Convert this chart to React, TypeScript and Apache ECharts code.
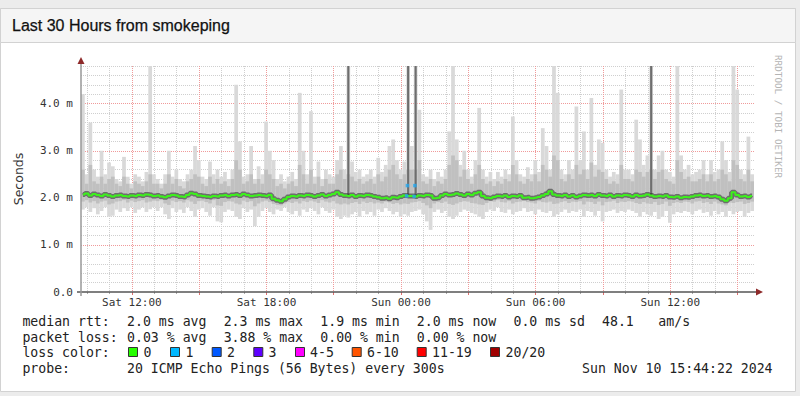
import React, { useEffect, useRef } from 'react';
import * as echarts from 'echarts';

// ---- time domain (minutes from Sat 09:44 to Sun 15:44) ----
const SPAN_MIN = 1800;
const BUCKET_MIN = 10;
const FIRST_HOUR_OFFSET = 16; // Sat 10:00
const FIRST_MAJOR_OFFSET = 136; // Sat 12:00

const xTickOffsets = [136, 496, 856, 1216, 1576];
const xTickLabels = ['Sat 12:00', 'Sat 18:00', 'Sun 00:00', 'Sun 06:00', 'Sun 12:00'];
const yTickValues = [0, 1, 2, 3, 4];
const yTickLabels = ['0.0', '1.0 m', '2.0 m', '3.0 m', '4.0 m'];

// ---- smokeping data, one value per 10 min bucket (ms) ----
const medianRtt = [
  2.07, 2.09, 2.05, 2.08, 2.06, 2.04, 2.07, 2.05, 2.03, 2.05, 2.06, 2.04, 2.03, 2.05, 2.04, 2.06, 2.05, 2.07, 2.06, 2.04,
  2.05, 2.03, 2.01, 2.04, 2.06, 2.05, 2.03, 2.02, 2.06, 2.10, 2.08, 2.05, 2.04, 2.03, 2.02, 2.04, 2.03, 2.05, 2.06, 2.04,
  2.06, 2.07, 2.05, 2.08, 2.06, 2.04, 2.05, 2.06, 2.05, 2.04, 2.06, 1.98, 1.95, 1.93, 1.97, 2.02, 2.04, 2.03, 2.05, 2.04,
  2.06, 2.05, 2.03, 2.05, 2.07, 2.04, 2.06, 2.08, 2.12, 2.07, 2.05, 2.04, 2.06, 2.03, 2.05, 2.04, 2.06, 2.05, 2.03, 2.01,
  1.99, 2.00, 1.98, 2.01, 2.00, 2.03, 2.05, 2.04, 2.04, 2.03, 2.05, 2.04, 2.06, 2.05, 1.99, 2.00, 2.05, 2.08, 2.06, 2.07,
  2.09, 2.07, 2.05, 2.08, 2.06, 2.10, 2.12, 2.04, 2.00, 1.99, 2.02, 2.04, 2.03, 2.05, 2.02, 2.04, 2.03, 2.05, 2.00, 2.01,
  1.99, 2.00, 2.02, 2.05, 2.08, 2.14, 2.07, 2.05, 2.04, 2.06, 2.03, 2.05, 2.02, 2.04, 2.06, 2.05, 2.06, 2.04, 2.07, 2.05,
  2.04, 2.06, 2.03, 2.05, 2.04, 2.06, 2.05, 2.03, 2.06, 2.04, 2.05, 2.07, 2.05, 2.03, 2.04, 2.03, 2.05, 2.02, 2.01, 2.03,
  2.00, 2.02, 2.01, 2.03, 2.05, 2.06, 2.04, 2.05, 2.03, 2.04, 2.02, 1.97, 1.94, 1.99, 2.12, 2.06, 2.03, 2.04, 2.02, 2.04,
];

const pingMax = [
  4.2, 2.5, 3.6, 2.6, 2.45, 3.0, 2.5, 2.75, 2.67, 2.4, 2.35, 2.87, 2.45, 2.3, 2.5, 2.45, 2.35, 2.55, 4.8, 2.5,
  2.4, 2.3, 2.5, 3.0, 2.45, 2.6, 2.4, 2.35, 2.5, 2.6, 3.1, 2.8, 2.45, 2.4, 2.77, 2.5, 2.6, 2.45, 2.55, 2.4,
  2.6, 4.4, 3.2, 2.45, 2.5, 3.1, 2.4, 2.67, 2.5, 3.62, 3.0, 2.8, 2.4, 2.5, 2.35, 2.45, 2.55, 2.4, 4.23, 3.0,
  2.5, 3.84, 2.45, 2.77, 2.4, 2.6, 2.5, 2.45, 2.8, 3.1, 2.6, 4.8, 2.77, 2.55, 2.6, 2.45, 2.5, 2.6, 2.45, 2.85,
  2.55, 2.7, 3.1, 3.24, 2.8, 2.6, 2.77, 4.8, 3.1, 4.8, 3.87, 2.5, 2.45, 2.6, 2.4, 2.55, 2.45, 2.6, 3.41, 4.8,
  3.24, 2.7, 3.0, 2.6, 2.45, 2.8, 3.91, 2.6, 2.45, 2.55, 2.4, 2.55, 2.45, 2.6, 2.5, 3.73, 2.8, 2.5, 2.45, 2.65,
  2.5, 2.8, 2.55, 3.48, 3.1, 2.6, 4.8, 4.23, 2.6, 2.5, 2.8, 2.6, 3.94, 2.8, 3.41, 2.6, 4.12, 2.7, 3.24, 3.17,
  2.6, 2.45, 2.55, 2.5, 4.3, 2.6, 2.6, 2.5, 3.66, 3.24, 2.7, 2.9, 4.8, 2.6, 2.9, 3.0, 2.6, 2.55, 2.45, 4.8,
  2.9, 2.6, 2.7, 2.5, 2.55, 2.6, 2.8, 2.5, 2.8, 2.55, 2.6, 3.2, 2.8, 2.55, 4.8, 4.3, 2.6, 2.5, 3.3, 2.5,
];

const pingMin = [
  1.75, 1.8, 1.7, 1.78, 1.65, 1.72, 1.8, 1.6, 1.62, 1.75, 1.7, 1.78, 1.72, 1.8, 1.68, 1.75, 1.8, 1.7, 1.76, 1.8,
  1.72, 1.8, 1.65, 1.55, 1.78, 1.7, 1.75, 1.68, 1.8, 1.72, 1.6, 1.75, 1.78, 1.7, 1.62, 1.8, 1.5, 1.48, 1.7, 1.75,
  1.72, 1.6, 1.55, 1.78, 1.7, 1.75, 1.4, 1.6, 1.72, 1.78, 1.7, 1.65, 1.75, 1.72, 1.8, 1.7, 1.65, 1.72, 1.62, 1.75,
  1.7, 1.78, 1.72, 1.65, 1.8, 1.72, 1.68, 1.75, 1.6, 1.55, 1.62, 1.58, 1.65, 1.7, 1.6, 1.72, 1.65, 1.7, 1.62, 1.75,
  1.7, 1.78, 1.72, 1.65, 1.7, 1.6, 1.65, 1.62, 1.7, 1.72, 1.75, 1.65, 1.5, 1.32, 1.7, 1.75, 1.68, 1.72, 1.6, 1.55,
  1.62, 1.7, 1.75, 1.72, 1.68, 1.65, 1.6, 1.55, 1.7, 1.75, 1.72, 1.8, 1.7, 1.68, 1.75, 1.65, 1.7, 1.72, 1.78, 1.7,
  1.72, 1.65, 1.75, 1.7, 1.68, 1.72, 1.6, 1.65, 1.7, 1.75, 1.68, 1.72, 1.7, 1.75, 1.6, 1.72, 1.7, 1.62, 1.72, 1.5,
  1.7, 1.72, 1.75, 1.68, 1.72, 1.7, 1.75, 1.72, 1.68, 1.6, 1.7, 1.65, 1.62, 1.7, 1.55, 1.6, 1.72, 1.47, 1.65, 1.7,
  1.68, 1.72, 1.7, 1.65, 1.72, 1.75, 1.68, 1.7, 1.62, 1.72, 1.65, 1.7, 1.6, 1.72, 1.65, 1.7, 1.72, 1.6, 1.68, 1.72,
];

const bandHigh = [
  2.6, 2.3, 2.7, 2.35, 2.3, 2.45, 2.3, 2.4, 2.45, 2.3, 2.25, 2.45, 2.3, 2.2, 2.35, 2.3, 2.25, 2.35, 2.5, 2.3,
  2.3, 2.2, 2.3, 2.5, 2.3, 2.4, 2.25, 2.2, 2.35, 2.4, 2.5, 2.45, 2.3, 2.25, 2.45, 2.3, 2.4, 2.3, 2.35, 2.25,
  2.4, 2.8, 2.6, 2.3, 2.35, 2.5, 2.3, 2.4, 2.3, 2.6, 2.5, 2.4, 2.25, 2.3, 2.2, 2.3, 2.35, 2.25, 2.7, 2.5,
  2.3, 2.6, 2.3, 2.45, 2.25, 2.4, 2.3, 2.3, 2.5, 2.6, 2.4, 2.5, 2.45, 2.35, 2.4, 2.3, 2.35, 2.4, 2.3, 2.5,
  2.35, 2.45, 2.6, 2.7, 2.5, 2.4, 2.5, 2.6, 2.6, 2.6, 2.8, 2.35, 2.3, 2.4, 2.25, 2.35, 2.3, 2.4, 2.7, 2.9,
  2.8, 2.45, 2.6, 2.4, 2.3, 2.5, 2.7, 2.4, 2.3, 2.35, 2.25, 2.35, 2.3, 2.4, 2.35, 2.7, 2.5, 2.35, 2.3, 2.4,
  2.35, 2.5, 2.35, 2.7, 2.6, 2.45, 2.9, 2.8, 2.4, 2.35, 2.5, 2.4, 2.7, 2.5, 2.6, 2.4, 2.75, 2.45, 2.6, 2.55,
  2.4, 2.3, 2.35, 2.3, 2.7, 2.4, 2.4, 2.35, 2.6, 2.55, 2.45, 2.55, 2.6, 2.4, 2.55, 2.6, 2.4, 2.35, 2.3, 2.8,
  2.55, 2.4, 2.45, 2.35, 2.35, 2.4, 2.5, 2.35, 2.5, 2.35, 2.4, 2.6, 2.5, 2.35, 2.8, 2.7, 2.4, 2.35, 2.6, 2.35,
];

const bandLow = [
  1.92, 1.95, 1.9, 1.93, 1.88, 1.92, 1.94, 1.86, 1.88, 1.92, 1.93, 1.95, 1.9, 1.94, 1.91, 1.93, 1.95, 1.9, 1.92, 1.94,
  1.93, 1.95, 1.88, 1.85, 1.94, 1.91, 1.93, 1.9, 1.95, 1.92, 1.87, 1.93, 1.94, 1.91, 1.88, 1.95, 1.84, 1.83, 1.91, 1.93,
  1.92, 1.88, 1.86, 1.94, 1.91, 1.93, 1.82, 1.88, 1.92, 1.94, 1.91, 1.87, 1.85, 1.84, 1.88, 1.91, 1.89, 1.92, 1.88, 1.93,
  1.91, 1.94, 1.92, 1.89, 1.95, 1.92, 1.9, 1.93, 1.88, 1.86, 1.88, 1.86, 1.89, 1.91, 1.87, 1.92, 1.89, 1.91, 1.88, 1.9,
  1.88, 1.92, 1.9, 1.87, 1.89, 1.86, 1.88, 1.87, 1.9, 1.91, 1.93, 1.89, 1.84, 1.78, 1.88, 1.91, 1.89, 1.92, 1.87, 1.85,
  1.88, 1.91, 1.93, 1.92, 1.89, 1.88, 1.86, 1.85, 1.89, 1.93, 1.92, 1.95, 1.91, 1.9, 1.93, 1.88, 1.91, 1.92, 1.94, 1.91,
  1.9, 1.88, 1.93, 1.91, 1.9, 1.92, 1.87, 1.88, 1.91, 1.93, 1.89, 1.92, 1.91, 1.93, 1.86, 1.92, 1.91, 1.87, 1.92, 1.84,
  1.91, 1.92, 1.94, 1.89, 1.92, 1.91, 1.93, 1.92, 1.89, 1.87, 1.91, 1.88, 1.87, 1.91, 1.85, 1.87, 1.92, 1.83, 1.89, 1.91,
  1.89, 1.92, 1.91, 1.88, 1.92, 1.93, 1.89, 1.91, 1.87, 1.92, 1.88, 1.86, 1.84, 1.9, 1.89, 1.91, 1.92, 1.87, 1.89, 1.92,
];

const darkSpikeIdx = [71, 87, 89, 152];
const darkSpikeTop = [4.8, 4.8, 4.8, 4.8];

const lossIdx = [87, 89];
const lossPeak = [2.26, 2.26];

// ---- legend texts ----
const rttStats = ['2.0 ms avg', '2.3 ms max', '1.9 ms min', '2.0 ms now', '0.0 ms sd'];
const rttRate = ['48.1', 'am/s'];
const lossStats = ['0.03 % avg', '3.88 % max', '0.00 % min', '0.00 % now'];
const lossLabels = ['0', '1', '2', '3', '4-5', '6-10', '11-19', '20/20'];
const lossColors = ['#26ff00', '#00b8ff', '#0059ff', '#5e00ff', '#ff00ff', '#ff5500', '#ff0000', '#a00000'];
const probeText = '20 ICMP Echo Pings (56 Bytes) every 300s';
const stampText = 'Sun Nov 10 15:44:22 2024';
const titleText = 'Last 30 Hours from smokeping';
const watermark = 'RRDTOOL / TOBI OETIKER';

const MONO = '"DejaVu Sans Mono", monospace';

function buildOption() {
  const cats = Array.from({ length: SPAN_MIN + 1 }, (_, k) => String(k));
  const mod = (a: number, m: number) => ((a % m) + m) % m;
  const isMajor = (k: number) => mod(k - FIRST_MAJOR_OFFSET, 180) === 0;
  const isHour = (k: number) => mod(k - FIRST_HOUR_OFFSET, 60) === 0;
  const isMinor = (k: number) => isHour(k) && !isMajor(k);

  const rectRender = (fill: string, inset: number) => (params: any, api: any) => {
    const x0 = api.value(0);
    const a = api.coord([x0, api.value(2)]);
    const b = api.coord([x0 + BUCKET_MIN, api.value(1)]);
    return {
      type: 'rect',
      shape: { x: a[0] + inset, y: a[1], width: Math.max(0.5, b[0] - a[0] - 2 * inset), height: b[1] - a[1] },
      style: { fill },
    };
  };

  const outer = pingMax.map((hi, i) => [i * BUCKET_MIN, pingMin[i], hi]);
  const inner = bandHigh.map((hi, i) => [i * BUCKET_MIN, bandLow[i], hi]);
  const dark = darkSpikeIdx.map((idx, j) => [idx * BUCKET_MIN, medianRtt[idx], darkSpikeTop[j]]);
  const medPts = medianRtt.map((v, i) => [i * BUCKET_MIN + BUCKET_MIN / 2, v]);
  const lossPts: number[][] = [];
  lossIdx.forEach((idx, j) => {
    lossPts.push([idx * BUCKET_MIN + 3, lossPeak[j]]);
    lossPts.push([idx * BUCKET_MIN + 1, medianRtt[idx]]);
  });

  const CW = 8.05;
  const C0 = 22.4;
  const col = (c: number) => C0 + c * CW;
  const textEl = (text: string, x: number, y: number, extra: any = {}) => ({
    type: 'text',
    x,
    y,
    z: 100,
    silent: true,
    style: {
      text,
      fontFamily: MONO,
      fontSize: 13.2,
      fill: '#222',
      align: 'left',
      textAlign: 'left',
      verticalAlign: 'middle',
      textVerticalAlign: 'middle',
      ...extra,
    },
  });

  const L1 = 321.5, L2 = 337, L3 = 352.5, L4 = 368;
  const boxX = [128, 170, 211.7, 253.3, 295, 351.7, 416.7, 490];
  const lblX = [143.5, 185.5, 227, 268.5, 310, 367, 432, 505.5];

  const graphics: any[] = [
    { type: 'rect', z: -20, silent: true, shape: { x: 0, y: 0, width: 800, height: 396 }, style: { fill: '#ececec' } },
    { type: 'rect', z: -19, silent: true, shape: { x: 0.5, y: 8.5, width: 795, height: 383 }, style: { fill: '#ffffff', stroke: '#d2d2d2', lineWidth: 1 } },
    { type: 'rect', z: -18, silent: true, shape: { x: 0.5, y: 8.5, width: 795, height: 34 }, style: { fill: '#f5f5f5', stroke: '#d2d2d2', lineWidth: 1 } },
    {
      type: 'text', x: 12, y: 25.5, z: 100, silent: true,
      style: { text: titleText, fontFamily: '"Liberation Sans", Arial, sans-serif', fontSize: 16, fill: '#111', align: 'left', textAlign: 'left', verticalAlign: 'middle', textVerticalAlign: 'middle', stroke: '#111', lineWidth: 0.25 },
    },
    {
      type: 'text', x: 778, y: 55, z: 100, silent: true, rotation: -Math.PI / 2,
      style: { text: watermark, fontFamily: MONO, fontSize: 9.3, fill: '#b4b4b4', align: 'left', textAlign: 'left', verticalAlign: 'middle', textVerticalAlign: 'middle' },
    },
    // axis extensions and arrows
    { type: 'line', z: 50, silent: true, shape: { x1: 77, y1: 292, x2: 757, y2: 292 }, style: { stroke: '#555', lineWidth: 1.5 } },
    { type: 'line', z: 50, silent: true, shape: { x1: 81, y1: 296, x2: 81, y2: 62 }, style: { stroke: '#999', lineWidth: 1.5 } },
    { type: 'polygon', z: 51, silent: true, shape: { points: [[77.5, 64], [84.5, 64], [81, 57]] }, style: { fill: '#8e2a2a' } },
    { type: 'polygon', z: 51, silent: true, shape: { points: [[756, 288.5], [756, 295.5], [763, 292]] }, style: { fill: '#8e2a2a' } },
    // legend
    textEl('median rtt:', col(0), L1),
    ...rttStats.map((s, i) => textEl(s, col(13 + 12 * i), L1)),
    textEl(rttRate[0], col(72), L1),
    textEl(rttRate[1], col(79), L1),
    textEl('packet loss:', col(0), L2),
    ...lossStats.map((s, i) => textEl(s, col(13 + 12 * i), L2)),
    textEl('loss color:', col(0), L3),
    ...lossColors.map((c, i) => ({
      type: 'rect', z: 100, silent: true,
      shape: { x: boxX[i] + 0.5, y: 347.5, width: 9, height: 9 },
      style: { fill: c, stroke: '#333', lineWidth: 1 },
    })),
    ...lossLabels.map((s, i) => textEl(s, lblX[i], L3)),
    textEl('probe:', col(0), L4),
    textEl(probeText, col(13), L4),
    textEl(stampText, 582, L4),
  ];

  const axisLabelStyle = { fontFamily: MONO, fontSize: 11, color: '#333' };
  const red = '#f09a9a';
  const gray = '#cfcfcf';

  return {
    animation: false,
    backgroundColor: '#ececec',
    textStyle: { fontFamily: MONO },
    grid: { left: 81, right: 46, top: 66, bottom: 104, containLabel: false },
    xAxis: [
      {
        type: 'category',
        position: 'bottom',
        data: cats,
        boundaryGap: false,
        axisLine: { show: false },
        axisTick: { show: true, interval: (i: number) => isMinor(i), length: 2, lineStyle: { color: '#aaa' } },
        axisLabel: { show: false },
        splitLine: { show: true, interval: (i: number) => isMinor(i), lineStyle: { color: gray, type: [1, 1], width: 1 } },
      },
      {
        type: 'category',
        position: 'bottom',
        data: cats,
        boundaryGap: false,
        axisLine: { show: false },
        axisTick: { show: true, interval: (i: number) => isMajor(i), length: 3, lineStyle: { color: '#e07070' } },
        axisLabel: {
          show: true,
          interval: (i: number) => xTickOffsets.indexOf(i) >= 0,
          formatter: (v: string) => {
            const k = xTickOffsets.indexOf(Number(v));
            return k >= 0 ? xTickLabels[k] : '';
          },
          margin: 5,
          ...axisLabelStyle,
        },
        splitLine: { show: true, interval: (i: number) => isMajor(i), lineStyle: { color: red, type: [1, 1], width: 1 } },
      },
    ],
    yAxis: [
      {
        type: 'value',
        position: 'left',
        min: 0,
        max: 4.8,
        interval: 0.2,
        axisLine: { show: false },
        axisTick: { show: false },
        axisLabel: { show: false },
        splitLine: { show: true, lineStyle: { color: ['transparent', gray, gray, gray, gray], type: [1, 1], width: 1 } },
      },
      {
        type: 'value',
        min: 0,
        max: 4.8,
        interval: 1,
        position: 'left',
        name: 'Seconds',
        nameLocation: 'middle',
        nameRotate: 90,
        nameGap: 56,
        nameTextStyle: { fontFamily: '"DejaVu Sans", sans-serif', fontSize: 12.5, color: '#333' },
        axisLine: { show: false },
        axisTick: { show: false },
        axisLabel: {
          show: true,
          margin: 8,
          formatter: (v: number) => {
            const k = yTickValues.indexOf(Math.round(v * 100) / 100);
            return k >= 0 ? yTickLabels[k] : '';
          },
          ...axisLabelStyle,
        },
        splitLine: { show: true, lineStyle: { color: ['transparent', red, red, red, red, 'transparent'], type: [1, 1], width: 1 } },
      },
    ],
    graphic: graphics,
    series: [
      {
        type: 'custom', name: 'smoke outer', xAxisIndex: 0, yAxisIndex: 0, z: 1, silent: true,
        encode: { x: 0, y: [1, 2] },
        renderItem: rectRender('#d9d9d9', 0),
        data: outer,
      },
      {
        type: 'custom', name: 'smoke inner', xAxisIndex: 0, yAxisIndex: 0, z: 2, silent: true,
        encode: { x: 0, y: [1, 2] },
        renderItem: rectRender('#c0c0c0', 0),
        data: inner,
      },
      {
        type: 'custom', name: 'smoke dense', xAxisIndex: 0, yAxisIndex: 0, z: 3, silent: true,
        encode: { x: 0, y: [1, 2] },
        renderItem: rectRender('#6e6e6e', 0.8),
        data: dark,
      },
      {
        type: 'line', name: 'core', xAxisIndex: 0, yAxisIndex: 0, z: 3, silent: true,
        data: medPts, step: 'middle', showSymbol: false, symbol: 'none',
        lineStyle: { color: 'rgba(40,40,40,0.55)', width: 5 },
      },
      {
        type: 'line', name: 'median', xAxisIndex: 0, yAxisIndex: 0, z: 5, silent: true,
        data: medPts, step: 'middle', showSymbol: false, symbol: 'none',
        lineStyle: { color: '#3cf01c', width: 2 },
      },
      {
        type: 'scatter', name: 'loss', xAxisIndex: 0, yAxisIndex: 0, z: 6, silent: true,
        data: lossPts, symbol: 'rect', symbolSize: 3.5,
        itemStyle: { color: '#22a8f0' },
      },
    ],
  };
}

export default function App() {
  const ref = useRef<HTMLDivElement>(null);
  useEffect(() => {
    if (!ref.current) return;
    const chart = echarts.init(ref.current, null, { renderer: 'svg' });
    chart.setOption(buildOption() as any);
    return () => chart.dispose();
  }, []);
  return <div ref={ref} style={{ position: 'absolute', left: 0, top: 0, width: 800, height: 396 }} />;
}
